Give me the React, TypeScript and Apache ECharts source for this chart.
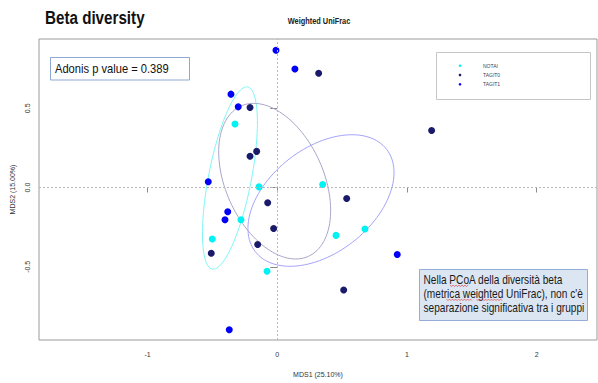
import React, { useEffect, useRef } from "react";
import * as echarts from "echarts";

// Groups, colours and PCoA coordinates (MDS1, MDS2)
const GROUPS = ["NOTAI", "TAGIT0", "TAGIT1"];
const POINT_COLORS = ["#00F2F2", "#1A1A6B", "#0000FA"];
const ELLIPSE_COLORS = ["#7FF5F5", "#A9A6C8", "#A3A3FA"];

const NOTAI_POINTS: [number, number][] = [
  [-0.326, 0.401], [-0.141, 0.004], [0.35, 0.019], [-0.28, -0.203],
  [0.453, -0.302], [-0.501, -0.325], [-0.079, -0.528], [0.676, -0.262],
];
const TAGIT0_POINTS: [number, number][] = [
  [0.319, 0.721], [-0.21, 0.505], [-0.21, 0.197], [-0.159, 0.228],
  [0.535, -0.069], [-0.074, -0.096], [-0.028, -0.258], [-0.151, -0.36],
  [-0.509, -0.415], [0.512, -0.646], [1.19, 0.36],
];
const TAGIT1_POINTS: [number, number][] = [
  [-0.01, 0.866], [0.136, 0.748], [-0.357, 0.589], [-0.301, 0.509],
  [-0.532, 0.036], [-0.382, -0.153], [-0.403, -0.203], [0.925, -0.423],
  [-0.37, -0.897],
];
const GROUP_POINTS = [NOTAI_POINTS, TAGIT0_POINTS, TAGIT1_POINTS];

// Ellipses: centre and two conjugate semi-axis vectors, in axis units
const ELLIPSE_CENTERS: [number, number][] = [[-0.365, 0.06], [-0.02, 0.04], [0.337, -0.082]];
const ELLIPSE_AXIS_A: [number, number][] = [[-0.129, -0.575], [0.162, -0.491], [-0.239, -0.415]];
const ELLIPSE_AXIS_B: [number, number][] = [[0.168, 0], [0.4, 0], [0.51, 0]];

const X_TICKS = [-1, 0, 1, 2];
const Y_TICKS = [-0.5, 0, 0.5];
const X_RANGE = [-1.837, 2.465];
const Y_RANGE = [-0.962, 0.937];

const TITLE = "Beta diversity";
const SUBTITLE = "Weighted UniFrac";
const ADONIS_TEXT = "Adonis p value = 0.389";
const NOTE_LINES = [
  "Nella PCoA della diversità beta",
  "(metrica weighted UniFrac), non c'è",
  "separazione significativa tra i gruppi",
];

const FONT = "'Liberation Sans', Arial, sans-serif";
const SQUEEZE = 0.82;

function ellipsePoints(i: number): [number, number][] {
  const [cx, cy] = ELLIPSE_CENTERS[i];
  const [ax, ay] = ELLIPSE_AXIS_A[i];
  const [bx, by] = ELLIPSE_AXIS_B[i];
  const pts: [number, number][] = [];
  const n = 120;
  for (let k = 0; k <= n; k++) {
    const t = (2 * Math.PI * k) / n;
    const c = Math.cos(t);
    const s = Math.sin(t);
    pts.push([cx + ax * c + bx * s, cy + ay * c + by * s]);
  }
  return pts;
}

function squiggle(x0: number, x1: number, y: number): number[][] {
  const pts: number[][] = [];
  let up = true;
  for (let x = x0; x <= x1; x += 1.5) {
    pts.push([x, up ? y - 0.8 : y + 0.8]);
    up = !up;
  }
  return pts;
}

export default function App() {
  const ref = useRef<HTMLDivElement>(null);

  useEffect(() => {
    if (!ref.current) return;
    const chart = echarts.init(ref.current, null, { renderer: "svg" });

    const ellipseSeries = GROUPS.map((g, i) => ({
      name: g + " ellipse",
      type: "line",
      data: ellipsePoints(i),
      showSymbol: false,
      smooth: false,
      silent: true,
      z: 2,
      lineStyle: { color: ELLIPSE_COLORS[i], width: 1 },
    }));

    const scatterSeries = GROUPS.map((g, i) => ({
      name: g,
      type: "scatter",
      data: GROUP_POINTS[i],
      symbolSize: 7,
      z: 3,
      itemStyle: { color: POINT_COLORS[i], opacity: 1 },
      ...(i === 0
        ? {
            markLine: {
              silent: true,
              symbol: "none",
              label: { show: false },
              lineStyle: { type: [2, 2], color: "#B8B8B8", width: 1 },
              data: [{ xAxis: 0 }, { yAxis: 0 }],
            },
          }
        : {}),
    }));

    const legendItems: any[] = [];
    GROUPS.forEach((g, i) => {
      const y = 65.7 + i * 9.3;
      legendItems.push({
        type: "circle",
        z: 20,
        shape: { cx: 460, cy: y, r: 1.3 },
        style: { fill: POINT_COLORS[i] },
      });
      legendItems.push({
        type: "text",
        z: 20,
        x: 483,
        y,
        style: {
          text: g,
          fill: "#444",
          font: `5px ${FONT}`,
          verticalAlign: "middle",
        },
      });
    });

    const noteTexts = NOTE_LINES.map((line, i) => ({
      type: "text",
      z: 20,
      x: 423.5,
      y: 280 + i * 13.9,
      scaleX: 0.81,
      style: {
        text: line,
        fill: "#1a1a1a",
        font: `12.5px ${FONT}`,
        verticalAlign: "middle",
      },
    }));

    const squiggles = [
      squiggle(450, 469, 285.8),
      squiggle(446.5, 472, 299.8),
      squiggle(476.5, 503, 299.8),
    ].map((pts) => ({
      type: "polyline",
      z: 21,
      shape: { points: pts },
      style: { stroke: "#E03030", lineWidth: 0.6, fill: null },
    }));

    chart.setOption({
      animation: false,
      backgroundColor: "#ffffff",
      grid: {
        left: 39,
        right: 1,
        top: 39,
        bottom: 42,
        show: true,
        borderColor: "#9A9A9A",
        borderWidth: 1,
        backgroundColor: "transparent",
      },
      xAxis: {
        type: "value",
        min: X_RANGE[0],
        max: X_RANGE[1],
        name: "MDS1 (25.10%)",
        nameLocation: "middle",
        nameGap: 31,
        nameTextStyle: { fontSize: 7, color: "#333", fontFamily: FONT },
        axisLine: { show: false },
        splitLine: { show: false },
        axisTick: {
          show: true,
          length: 5,
          customValues: X_TICKS,
          lineStyle: { color: "#8A8A8A" },
        },
        axisLabel: {
          customValues: X_TICKS,
          fontSize: 7,
          color: "#333",
          fontFamily: FONT,
          margin: 11,
          formatter: (v: number) => String(v),
        },
      },
      yAxis: {
        type: "value",
        min: Y_RANGE[0],
        max: Y_RANGE[1],
        name: "MDS2 (15.00%)",
        nameLocation: "middle",
        nameRotate: 90,
        nameGap: 22,
        nameTextStyle: { fontSize: 7, color: "#333", fontFamily: FONT },
        axisLine: { show: false },
        splitLine: { show: false },
        axisTick: {
          show: true,
          length: 7,
          customValues: Y_TICKS,
          lineStyle: { color: "#8A8A8A" },
        },
        axisLabel: {
          customValues: Y_TICKS,
          rotate: 90,
          fontSize: 7,
          color: "#333",
          fontFamily: FONT,
          margin: 8,
          formatter: (v: number) => v.toFixed(1),
        },
      },
      series: [...ellipseSeries, ...scatterSeries],
      graphic: [
        {
          type: "text",
          x: 45,
          y: 17.5,
          scaleX: 0.8,
          z: 20,
          style: {
            text: TITLE,
            fill: "#111",
            font: `bold 19px ${FONT}`,
            verticalAlign: "middle",
          },
        },
        {
          type: "text",
          x: 319,
          y: 21,
          scaleX: SQUEEZE,
          z: 20,
          style: {
            text: SUBTITLE,
            fill: "#222",
            font: `bold 9px ${FONT}`,
            align: "center",
            verticalAlign: "middle",
          },
        },
        {
          type: "rect",
          shape: { x: 50.5, y: 57.5, width: 139, height: 22.5 },
          style: { fill: "#ffffff", stroke: "#8FA8D2", lineWidth: 1 },
          z: 10,
        },
        {
          type: "text",
          x: 55,
          y: 69,
          scaleX: SQUEEZE,
          z: 20,
          style: {
            text: ADONIS_TEXT,
            fill: "#111",
            font: `13.6px ${FONT}`,
            verticalAlign: "middle",
          },
        },
        {
          type: "rect",
          shape: { x: 436.5, y: 52.5, width: 154, height: 47 },
          style: { fill: "#ffffff", stroke: "#C6C6C6", lineWidth: 1 },
          z: 10,
        },
        ...legendItems,
        {
          type: "rect",
          shape: { x: 419.5, y: 269.5, width: 168, height: 51 },
          style: { fill: "#DCE6F3", stroke: "#93ADD8", lineWidth: 1 },
          z: 10,
        },
        ...noteTexts,
        ...squiggles,
      ],
    });

    return () => chart.dispose();
  }, []);

  return (
    <div
      ref={ref}
      style={{ position: "absolute", left: 0, top: 0, width: 598, height: 383 }}
    />
  );
}
